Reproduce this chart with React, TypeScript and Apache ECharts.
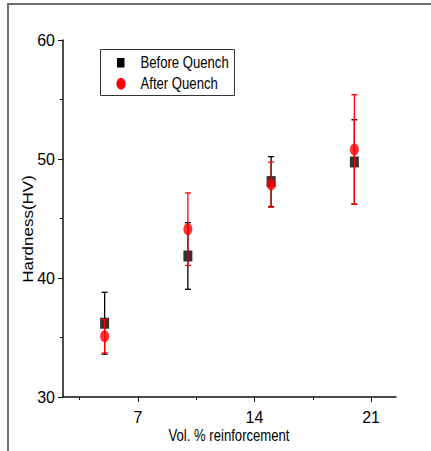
import React, { useEffect, useRef } from "react";
import * as echarts from "echarts";

const xValues = [5, 10, 15, 20];
const beforeMean = [36.2, 41.85, 48.1, 49.75];
const beforeErr = [2.6, 2.8, 2.1, 3.55];
const afterMean = [35.1, 44.1, 47.85, 50.8];
const afterErr = [1.4, 3.05, 1.9, 4.6];
const xMajorTicks = [7, 14, 21];
const xMinorTicks = [3.5, 10.5, 17.5];
const seriesNames = ["Before Quench", "After Quench"];
const xTitle = "Vol. % reinforcement";
const yTitle = "Hardness(HV)";

const REG = "'Liberation Sans', Arial, sans-serif";
const SQX = 0.82;

function errRender(color: string) {
  return (params: any, api: any) => {
    const x = api.value(0);
    const lo = api.coord([x, api.value(1)]);
    const hi = api.coord([x, api.value(2)]);
    const w = 3;
    const style = { stroke: color, lineWidth: 1.3 };
    return {
      type: "group",
      children: [
        { type: "line", shape: { x1: lo[0], y1: lo[1], x2: hi[0], y2: hi[1] }, style },
        { type: "line", shape: { x1: lo[0] - w, y1: lo[1], x2: lo[0] + w, y2: lo[1] }, style },
        { type: "line", shape: { x1: hi[0] - w, y1: hi[1], x2: hi[0] + w, y2: hi[1] }, style },
      ],
    };
  };
}

export default function App() {
  const ref = useRef<HTMLDivElement>(null);
  useEffect(() => {
    if (!ref.current) return;
    const chart = echarts.init(ref.current, undefined, { renderer: "svg" });
    const axisColor = "#111";
    const option: any = {
      animation: false,
      backgroundColor: "#fff",
      grid: { left: 63, right: 35, top: 40, bottom: 54, containLabel: false },
      xAxis: [
        {
          type: "value",
          min: 2.5,
          max: 22.5,
          position: "bottom",
          axisLine: { show: true, lineStyle: { color: axisColor, width: 1.5 } },
          axisTick: { show: true, customValues: xMajorTicks, length: 5, lineStyle: { color: axisColor, width: 1 } },
          axisLabel: { customValues: xMajorTicks, fontFamily: REG, fontSize: 16, color: "#000", margin: 12 },
          splitLine: { show: false },
        },
        {
          type: "value",
          min: 2.5,
          max: 22.5,
          position: "bottom",
          offset: 0,
          axisLine: { show: false },
          axisTick: { show: true, customValues: xMinorTicks, length: 3, lineStyle: { color: axisColor, width: 1 } },
          axisLabel: { show: false },
          splitLine: { show: false },
        },
      ],
      yAxis: {
        type: "value",
        min: 30,
        max: 60,
        interval: 10,
        axisLine: { show: true, lineStyle: { color: axisColor, width: 1.5 } },
        axisTick: { show: true, length: 5, lineStyle: { color: axisColor, width: 1 } },
        minorTick: { show: true, splitNumber: 2, length: 3, lineStyle: { color: axisColor, width: 1 } },
        axisLabel: { fontFamily: REG, fontSize: 16, color: "#000", margin: 8 },
        splitLine: { show: false },
        minorSplitLine: { show: false },
      },
      graphic: [
        {
          type: "rect",
          shape: { x: 8, y: 4, width: 600, height: 600 },
          style: { fill: "none", stroke: "#6e6e6e", lineWidth: 2 },
          silent: true,
        },
        {
          type: "text",
          x: 229,
          y: 436,
          scaleX: SQX,
          style: { text: xTitle, fontFamily: REG, fontSize: 16, fill: "#000", align: "center", verticalAlign: "middle" },
        },
        {
          type: "text",
          x: 28,
          y: 229,
          rotation: Math.PI / 2,
          scaleY: SQX,
          style: { text: yTitle, fontFamily: REG, fontSize: 17, fill: "#000", align: "center", verticalAlign: "middle" },
        },
        {
          type: "group",
          left: 100,
          top: 49,
          children: [
            {
              type: "rect",
              shape: { x: 0, y: 0, width: 134, height: 46 },
              style: { fill: "#fff", stroke: "#333", lineWidth: 1 },
            },
            {
              type: "rect",
              shape: { x: 16.5, y: 8.5, width: 7.5, height: 9.5 },
              style: { fill: "#000" },
            },
            {
              type: "ellipse",
              shape: { cx: 20.5, cy: 34.3, rx: 4.6, ry: 5.8 },
              style: { fill: "#ff0000" },
            },
            {
              type: "text",
              x: 40,
              y: 13.5,
              scaleX: SQX,
              style: { text: seriesNames[0], fontFamily: REG, fontSize: 16, fill: "#000", align: "left", verticalAlign: "middle" },
            },
            {
              type: "text",
              x: 40,
              y: 34.3,
              scaleX: SQX,
              style: { text: seriesNames[1], fontFamily: REG, fontSize: 16, fill: "#000", align: "left", verticalAlign: "middle" },
            },
          ],
        },
      ],
      series: [
        {
          name: "Before err",
          type: "custom",
          xAxisIndex: 0,
          renderItem: errRender("#000"),
          encode: { x: 0, y: [1, 2] },
          data: xValues.map((x, i) => [x, beforeMean[i] - beforeErr[i], beforeMean[i] + beforeErr[i]]),
          z: 2,
        },
        {
          name: seriesNames[0],
          type: "scatter",
          symbol: "rect",
          symbolSize: [9, 11],
          itemStyle: { color: "#000" },
          data: xValues.map((x, i) => [x, beforeMean[i]]),
          z: 3,
        },
        {
          name: "After err",
          type: "custom",
          xAxisIndex: 0,
          renderItem: errRender("#ff0000"),
          encode: { x: 0, y: [1, 2] },
          data: xValues.map((x, i) => [x, afterMean[i] - afterErr[i], afterMean[i] + afterErr[i]]),
          z: 4,
        },
        {
          name: seriesNames[1],
          type: "scatter",
          symbol: "circle",
          symbolSize: [9, 12],
          itemStyle: { color: "#ff0000" },
          data: xValues.map((x, i) => [x, afterMean[i]]),
          z: 5,
        },
      ],
    };
    chart.setOption(option);
    return () => chart.dispose();
  }, []);
  return (
    <div
      ref={ref}
      style={{ position: "fixed", left: 0, top: 0, width: 431, height: 451, background: "#fff" }}
    />
  );
}
